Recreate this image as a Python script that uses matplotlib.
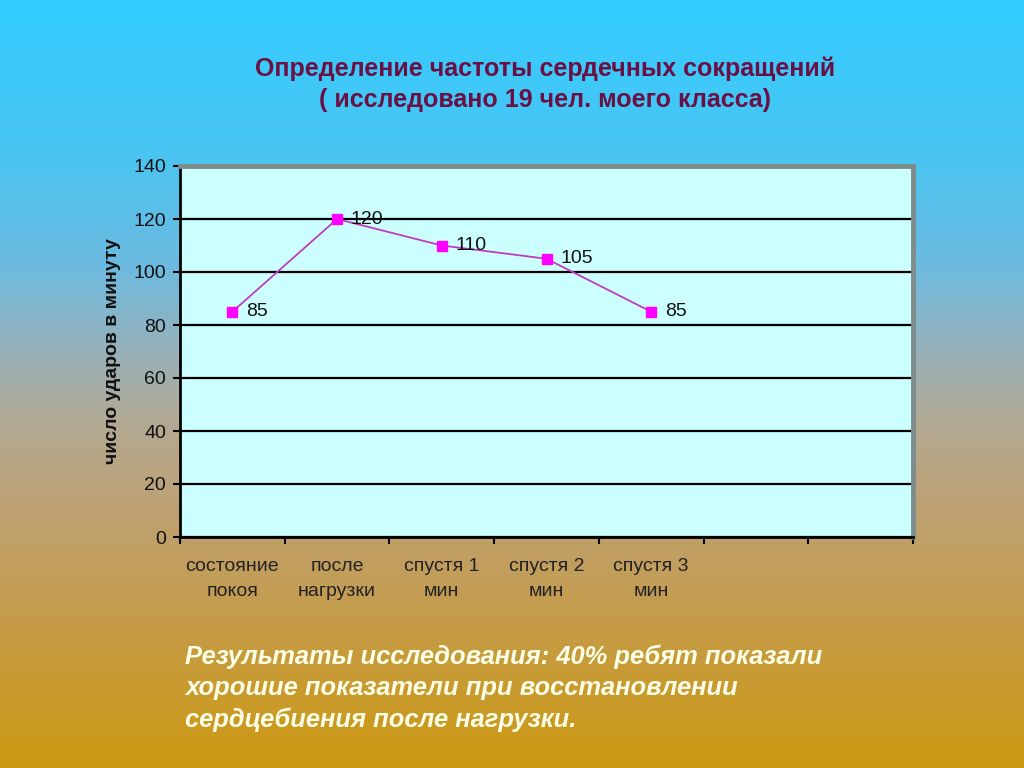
import numpy as np
import matplotlib
matplotlib.use("Agg")
import matplotlib.pyplot as plt
from matplotlib.colors import LinearSegmentedColormap

categories = ["состояние\nпокоя", "после\nнагрузки", "спустя 1\nмин", "спустя 2\nмин", "спустя 3\nмин", "", ""]
values = [85, 120, 110, 105, 85]
yticks = [0, 20, 40, 60, 80, 100, 120, 140]

title = "Определение частоты сердечных сокращений\n( исследовано 19 чел. моего класса)"
ylabel = "число ударов в минуту"
note = ("Результаты исследования: 40% ребят показали\n"
        "хорошие показатели при восстановлении\n"
        "сердцебиения после нагрузки.")

plt.rcParams['font.family'] = ['Liberation Sans', 'DejaVu Sans']

fig = plt.figure(figsize=(10.24, 7.68), dpi=100)

# background gradient
bg = fig.add_axes([0, 0, 1, 1], zorder=-10)
stops = [(0.0, "#33CCFF"), (0.2, "#4AC5F2"), (0.35, "#6EBADF"), (0.45, "#95B1BC"),
         (0.55, "#B2A993"), (0.65, "#BDA277"), (0.8, "#C59C4C"), (1.0, "#CC9912")]
cmap = LinearSegmentedColormap.from_list("bg", stops)
grad = np.linspace(0, 1, 512).reshape(-1, 1)
bg.imshow(grad, aspect="auto", cmap=cmap, extent=[0, 1, 0, 1], origin="upper")
bg.set_axis_off()

ax = fig.add_axes([180/1024, 1 - 537/768, 733/1024, (537-166)/768])
ax.set_facecolor("#CCFFFF")
x = np.arange(len(values))
ax.plot(x, values, color="#C03CC0", lw=1.3, marker="s", ms=7,
        mfc="#FF00FF", mec="#FF00FF", zorder=5, clip_on=False)
for xi, v in zip(x, values):
    ax.annotate(str(v), (xi, v), xytext=(10, 0), textcoords="offset points",
                ha="left", va="center", fontsize=14, color="#111111", zorder=6)

ax.set_xlim(-0.5, len(categories) - 0.5)
ax.set_ylim(0, 140)
ax.set_yticks(yticks)
ax.set_yticklabels([str(t) for t in yticks], fontsize=14, color="#111111")
ax.yaxis.grid(True, color="black", lw=1.6)
ax.set_axisbelow(True)

# category ticks at boundaries, labels centered
ax.set_xticks(np.arange(len(categories) + 1) - 0.5)
ax.set_xticklabels([])
ax.set_xticks(np.arange(len(categories)), minor=True)
ax.set_xticklabels(categories, minor=True, fontsize=14, color="#222222", linespacing=1.6)
ax.tick_params(axis="x", which="minor", length=0, pad=15)
ax.tick_params(axis="x", which="major", length=5, width=1.5, direction="out")
ax.tick_params(axis="y", length=5, width=1.5, direction="out", pad=5)

for s in ["left", "bottom"]:
    ax.spines[s].set_color("black")
    ax.spines[s].set_linewidth(2)
for s in ["top", "right"]:
    ax.spines[s].set_color("#7F8C8C")
    ax.spines[s].set_linewidth(3.5)

ax.set_ylabel(ylabel, fontsize=14, fontweight="bold", color="#111111", labelpad=9)

fig.text(545/1024, 1 - 84/768, title, ha="center", va="center", fontsize=18,
         fontweight="bold", color="#6B1045", linespacing=1.35)

fig.text(185/1024, 1 - 688/768, note, ha="left", va="center", fontsize=18.4,
         fontweight="bold", style="italic", color="#FFFFE8", linespacing=1.38)

fig.savefig("out.png", dpi=100)
